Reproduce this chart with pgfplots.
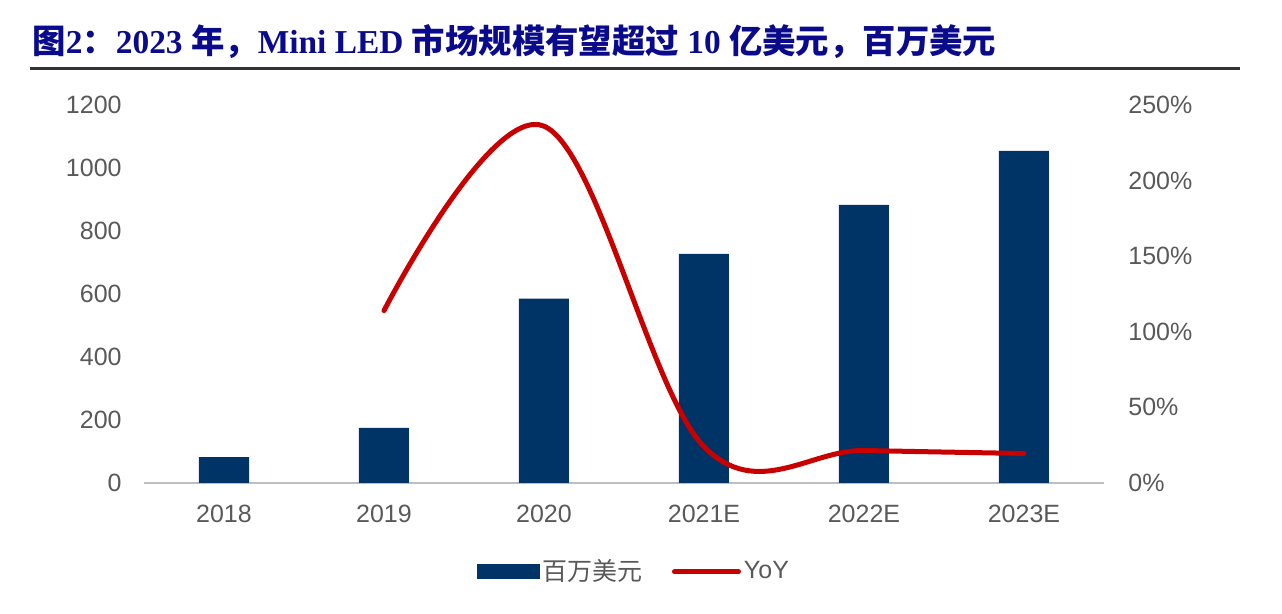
\documentclass[border=0pt]{standalone}
\usepackage{pgfplots}
\pgfplotsset{compat=1.18}
\usepackage{pgfplotstable}
\usepackage{fontspec}
\setmainfont{Liberation Sans}
\newfontfamily\cjk{Noto Sans CJK SC}
\newfontfamily\tnr{Liberation Serif}

\definecolor{barblue}{RGB}{0,51,102}
\definecolor{linered}{RGB}{200,0,0}
\definecolor{titleblue}{RGB}{10,10,140}
\definecolor{ticktext}{RGB}{89,89,89}
\definecolor{axisgray}{RGB}{191,191,191}
\newcommand\C[1]{{\cjk\bfseries #1}}

% market size, million USD
\pgfplotstableread{
x val
0 82
1 175
2 585
3 727
4 883
5 1054
}\market

% growth, percent
\pgfplotstableread{
x yoy
1 114
2 236
3 24
4 21.5
5 19.5
}\growth

\pgfplotsset{
  base/.style={
    at={(72pt,65.5pt)}, anchor=south west,
    scale only axis, width=480pt, height=189pt,
    xmin=-0.5, xmax=5.5, ymin=0,
    major tick length=0pt,
    tick label style={text=ticktext, font=\fontsize{12.5}{15}\selectfont},
  }
}

\begin{document}
\begin{tikzpicture}
\path (0,0) rectangle (641pt,307pt);
\node[anchor=base west, inner sep=0pt, text=titleblue, font=\tnr\bfseries\fontsize{16.7}{19}\selectfont]
  at (16pt,280pt) {\C{图}2\C{：}2023 \C{年，}Mini LED \C{市场规模有望超过} 10 \C{亿美元，百万美元}};
\draw[line width=1.5pt, black!80] (15pt,272.5pt) -- (620pt,272.5pt);

\begin{axis}[base, ymax=1200,
  axis x line*=bottom, axis y line*=left,
  x axis line style={axisgray, line width=0.8pt, -},
  y axis line style={draw=none},
  xtick={0,...,5}, xticklabels={2018,2019,2020,2021E,2022E,2023E},
  xticklabel style={anchor=north, inner sep=0pt, yshift=-11pt},
  ytick={0,200,...,1200}, yticklabels={0,200,400,600,800,1000,1200},
  yticklabel style={anchor=east, inner sep=0pt, xshift=-11pt},
  ybar, bar width=25pt,
]
\addplot[fill=barblue, draw=none] table[x=x,y=val]{\market};
\end{axis}

\begin{axis}[base, ymax=250,
  axis y line*=right, axis x line=none,
  y axis line style={draw=none},
  ytick={0,50,...,250}, yticklabels={0\%,50\%,100\%,150\%,200\%,250\%},
  yticklabel style={anchor=west, inner sep=0pt, xshift=12pt},
  legend style={at={(axis description cs:0.511,-0.235)}, anchor=center,
    draw=none, fill=none, legend columns=2, text=ticktext,
    font=\fontsize{12.5}{15}\selectfont, nodes={inner sep=1.5pt},
    /tikz/every even column/.append style={column sep=13pt}},
  legend cell align=left,
]
\addlegendimage{legend image code/.code={\fill[barblue] (0pt,-3.5pt) rectangle (31pt,3.5pt);}}
\addlegendentry{\cjk 百万美元}
\addplot[linered, line width=2.5pt, smooth, tension=0.6, line cap=round,
  legend image code/.code={\draw[linered, line width=2.5pt, line cap=round] (0pt,0pt) -- (32pt,0pt);}]
  table[x=x,y=yoy]{\growth};
\addlegendentry{YoY}
\end{axis}
\end{tikzpicture}
\end{document}
